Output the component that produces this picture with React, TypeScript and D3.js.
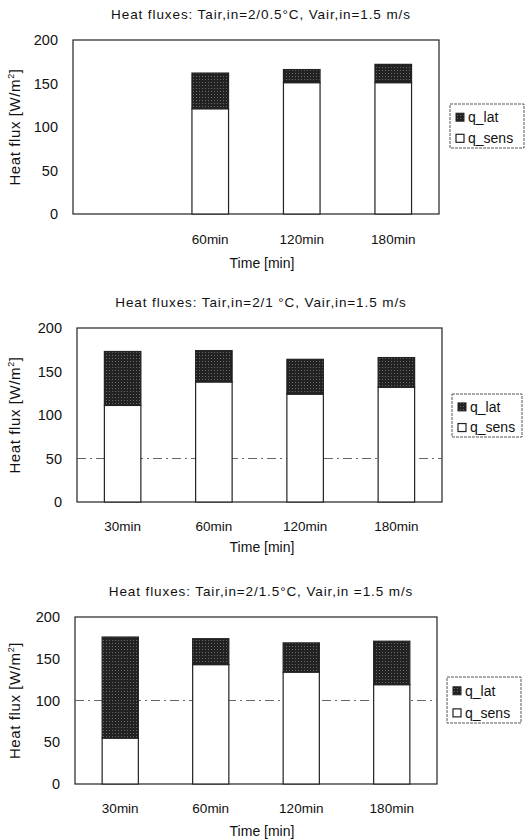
import React from 'react';
import * as d3 from 'd3';

// categories shared by the three panels
const categories = ['30min', '60min', '120min', '180min'];
const yTicks = [0, 50, 100, 150, 200];

// panel 1: Tair,in = 2/0.5 C  (no 30min run)
const sens1 = [null, 121, 151, 151];
const lat1 = [null, 41, 15, 21];
// panel 2: Tair,in = 2/1 C
const sens2 = [111, 138, 124, 132];
const lat2 = [62, 36, 40, 34];
// panel 3: Tair,in = 2/1.5 C
const sens3 = [55, 143, 134, 119];
const lat3 = [121, 31, 35, 52];

const titles = [
  'Heat fluxes: Tair,in=2/0.5°C, Vair,in=1.5 m/s',
  'Heat fluxes: Tair,in=2/1 °C, Vair,in=1.5 m/s',
  'Heat fluxes: Tair,in=2/1.5°C, Vair,in =1.5 m/s',
];
const refLines = [null, 50, 100];

const FONT = 'Liberation Sans, Arial, sans-serif';

const Panel = props => {
  const { title, sens, lat, refLine, box, legend, titleY, tickY, xLabelY } = props;
  const { left, right, top, bottom } = box;

  const x = d3.scaleBand().domain(categories).range([left, right]).paddingInner(0.6).paddingOuter(0.3);
  const y = d3.scaleLinear().domain([0, 200]).range([bottom, top]);
  const midY = (top + bottom) / 2;

  return (
    <g fontFamily={FONT} fill="#111">
      <text x={261} y={titleY} textAnchor="middle" fontSize={13.5} letterSpacing={0.9}>{title}</text>
      <rect x={left} y={top} width={right - left} height={bottom - top} fill="#fff" stroke="#222" strokeWidth={1.2} />
      {refLine != null && (
        <line x1={left} x2={right} y1={y(refLine)} y2={y(refLine)} stroke="#555" strokeWidth={0.9} strokeDasharray="9,4,2,4" />
      )}
      {categories.map((c, i) => {
        if (sens[i] == null) return null;
        const bx = x(c);
        return (
          <g key={c}>
            <rect x={bx} y={y(sens[i])} width={x.bandwidth()} height={y(0) - y(sens[i])} fill="#fff" stroke="#222" strokeWidth={1.2} />
            <rect x={bx} y={y(sens[i] + lat[i])} width={x.bandwidth()} height={y(sens[i]) - y(sens[i] + lat[i])} fill="url(#latPat)" stroke="#222" strokeWidth={1.2} />
          </g>
        );
      })}
      {yTicks.map(t => (
        <text key={t} x={left - 15} y={y(t)} dy="0.35em" textAnchor="end" fontSize={14.5}>{t}</text>
      ))}
      {categories.map((c, i) => sens[i] == null ? null : (
        <text key={c} x={x(c) + x.bandwidth() / 2} y={tickY} textAnchor="middle" fontSize={13.5}>{c}</text>
      ))}
      <text x={262} y={xLabelY} textAnchor="middle" fontSize={14}>Time [min]</text>
      <text transform={`translate(20,${midY}) rotate(-90)`} textAnchor="middle" fontSize={15} letterSpacing={0.6}>
        Heat flux [W/m<tspan dy={-6} fontSize={9}>2</tspan><tspan dy={6}>]</tspan>
      </text>
      <rect x={legend.x} y={legend.y} width={legend.w} height={legend.h} fill="#fff" stroke="#444" strokeWidth={0.9} strokeDasharray="3,1" />
      <rect x={legend.x + 6} y={legend.y + legend.h * 0.3 - 4} width={8} height={8} fill="url(#latPat)" stroke="#222" strokeWidth={1} />
      <text x={legend.x + 18} y={legend.y + legend.h * 0.3} dy="0.35em" fontSize={14}>q_lat</text>
      <rect x={legend.x + 6} y={legend.y + legend.h * 0.78 - 4} width={8} height={8} fill="#fff" stroke="#222" strokeWidth={1.2} />
      <text x={legend.x + 18} y={legend.y + legend.h * 0.78} dy="0.35em" fontSize={14}>q_sens</text>
    </g>
  );
};

const layouts = [
  { box: { left: 73, right: 439, top: 40, bottom: 214 }, legend: { x: 450, y: 104, w: 74, h: 44 }, titleY: 19, tickY: 244, xLabelY: 268 },
  { box: { left: 77, right: 442, top: 328, bottom: 502 }, legend: { x: 452, y: 394, w: 70, h: 43 }, titleY: 307, tickY: 531, xLabelY: 552 },
  { box: { left: 75, right: 437, top: 617, bottom: 784 }, legend: { x: 447, y: 677, w: 74, h: 46 }, titleY: 596, tickY: 813, xLabelY: 836 },
];

const App = () => {
  const sensAll = [sens1, sens2, sens3];
  const latAll = [lat1, lat2, lat3];
  return (
    <svg width={531} height={840} style={{ position: 'absolute', left: 0, top: 0, background: '#fff' }}>
      <defs>
        <pattern id="latPat" width={3} height={3} patternUnits="userSpaceOnUse">
          <rect width={3} height={3} fill="#222" />
          <rect x={1} y={1} width={1} height={1} fill="#6a6a6a" />
        </pattern>
      </defs>
      {layouts.map((l, i) => (
        <Panel key={i} title={titles[i]} sens={sensAll[i]} lat={latAll[i]} refLine={refLines[i]} {...l} />
      ))}
    </svg>
  );
};

export default App;
